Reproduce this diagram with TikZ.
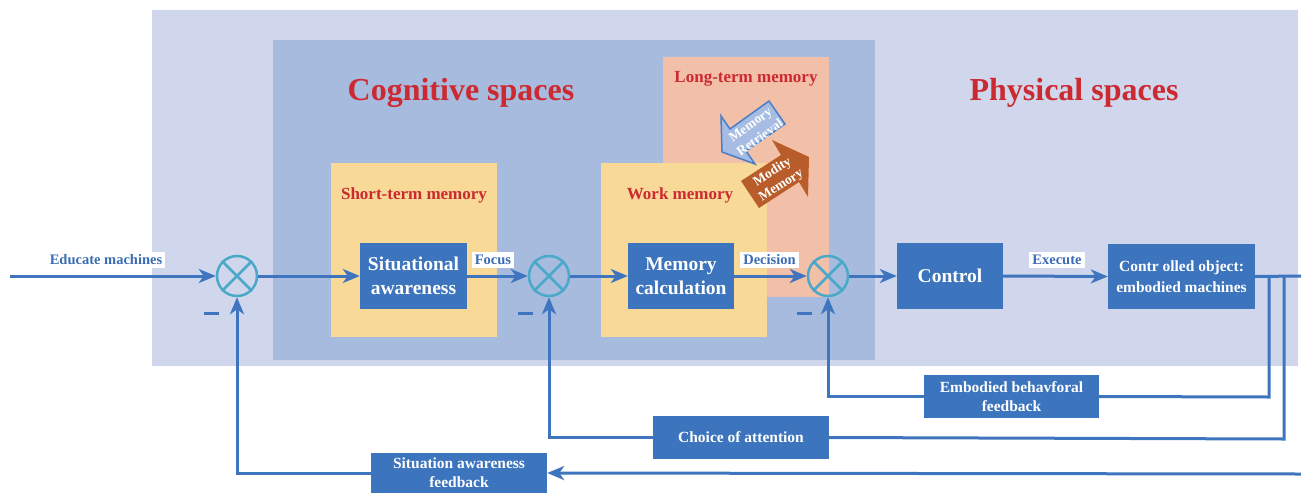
\documentclass[tikz,border=0pt]{standalone}
\usepackage{fontspec}
\setmainfont{Liberation Serif}
\usetikzlibrary{arrows.meta}
\definecolor{physbg}{HTML}{D0D7EC}
\definecolor{cogbg}{HTML}{A7BBDF}
\definecolor{longbg}{HTML}{F2BFA8}
\definecolor{shortbg}{HTML}{F8D998}
\definecolor{nodeblue}{HTML}{3C74BD}
\definecolor{lineblue}{HTML}{3F75BF}
\definecolor{labelblue}{HTML}{3C6CB4}
\definecolor{titlered}{HTML}{CC2A30}
\definecolor{sumteal}{HTML}{4AA8C8}
\definecolor{retrfill}{HTML}{A6BCE2}
\definecolor{retrline}{HTML}{4A7EC8}
\definecolor{modfill}{HTML}{B85C2A}
\begin{document}
\begin{tikzpicture}[x=1pt,y=-1pt,
  blockbox/.style={fill=nodeblue,text=white,font=\bfseries\fontsize{19.5}{24}\selectfont,align=center,inner sep=0pt},
  fbbox/.style={fill=nodeblue,text=white,font=\bfseries\fontsize{15.5}{19}\selectfont,align=center,inner sep=0pt},
  linelabel/.style={fill=white,text=labelblue,font=\bfseries\fontsize{14.5}{16}\selectfont,inner sep=3pt},
  sumnode/.style={circle,draw=sumteal,line width=2.5pt,minimum size=40pt,inner sep=0pt},
  conn/.style={draw=lineblue,line width=3pt},
  arr/.style={conn,-{Stealth[length=17pt,width=14pt,inset=5pt]}},
  spacetitle/.style={text=titlered,font=\bfseries\fontsize{32}{36}\selectfont},
  memtitle/.style={text=titlered,font=\bfseries\fontsize{17}{20}\selectfont},
  arrowtext/.style={text=white,font=\bfseries\fontsize{13.5}{16}\selectfont,align=center,inner sep=0pt},
  minussign/.style={draw=lineblue,line width=3pt}
]
\useasboundingbox (0,0) rectangle (1301,493);
% backgrounds
\fill[physbg] (152,10) rectangle (1298,366);
\fill[cogbg] (273,40) rectangle (875,360);
\fill[longbg] (663,57) rectangle (829,297);
\fill[shortbg] (331,163) rectangle (497,337);
\fill[shortbg] (601,163) rectangle (767,337);
% titles
\node[spacetitle] (cogt) at (461,93) {Cognitive spaces};
\node[spacetitle] (phyt) at (1074,93) {Physical spaces};
\node[memtitle] (ltm) at (746,78.5) {Long-term memory};
\node[memtitle] (stm) at (414,195.5) {Short-term memory};
\node[memtitle] (wm) at (680,195.5) {Work memory};
% memory arrows
\filldraw[fill=retrfill,draw=retrline,line width=1.5pt,line join=miter]
  (769,101) -- (785,124) -- (746,151) -- (755,164) -- (722,152) -- (721,116) -- (730,129) -- cycle;
\node[arrowtext,rotate=35.7] (retr) at (755,131) {Memory\\Retrieval};
\fill[modfill]
  (741,181) -- (781,155) -- (772,140) -- (809,157) -- (808,197) -- (799,182) -- (759,208) -- cycle;
\node[arrowtext,rotate=32.5] (modm) at (777,179) {Modity\\Memory};
% blocks
\node[blockbox,minimum width=107pt,minimum height=66pt] (sit) at (413.5,276) {Situational\\awareness};
\node[blockbox,minimum width=106pt,minimum height=66pt] (mem) at (681,276) {Memory\\calculation};
\node[blockbox,minimum width=106pt,minimum height=66pt] (ctrl) at (950,276) {Control};
\node[fbbox,minimum width=147pt,minimum height=65pt,font=\bfseries\fontsize{15.5}{21}\selectfont] (obj) at (1181.5,276.5) {Contr olled object:\\embodied machines};
\node[fbbox,minimum width=175pt,minimum height=43pt] (emb) at (1011.5,396.5) {Embodied behavforal\\feedback};
\node[fbbox,minimum width=176pt,minimum height=43pt] (choice) at (741,437.5) {Choice of attention};
\node[fbbox,minimum width=176pt,minimum height=40pt] (sitfb) at (459,473) {Situation awareness\\feedback};
% summing junctions
\foreach \n/\x in {s1/237,s2/549,s3/828}{
  \node[sumnode] (\n) at (\x,276) {};
  \draw[sumteal,line width=2.5pt] (\n.45) -- (\n.225) (\n.135) -- (\n.315);
}
% minus signs
\draw[minussign] (204,313) -- (219,313);
\draw[minussign] (518,313) -- (533,313);
\draw[minussign] (797,313) -- (812,313);
% coordinates
\coordinate (inp) at (10,276);
\coordinate (outR) at (1301,276);
\coordinate (b1) at (1269,276);
\coordinate (b1d) at (1269,397);
\coordinate (b2) at (1284,276);
\coordinate (b2d) at (1284,439);
\coordinate (fbR) at (1301,474);
% forward path
\draw[arr] (inp) -- (s1.west);
\draw[arr] (s1.east) -- (sit.west);
\draw[arr] (sit.east) -- (s2.west);
\draw[arr] (s2.east) -- (mem.west);
\draw[arr] (mem.east) -- (s3.west);
\draw[arr] (s3.east) -- (ctrl.west);
\draw[arr] (ctrl.east) -- (obj.west);
\draw[conn] (obj.east) -- (outR);
% feedback paths
\draw[conn] (b1) -- (b1d) -- (emb.east);
\draw[arr] (emb.west) -| (s3.south);
\draw[conn] (b2) -- (b2d) -- (choice.east);
\draw[arr] (choice.west) -| (s2.south);
\draw[arr] (fbR) -- (sitfb.east);
\draw[arr] (sitfb.west) -| (s1.south);
% line labels
\node[linelabel] (lbl1) at (106,260) {Educate machines};
\node[linelabel] (lbl2) at (493,260) {Focus};
\node[linelabel] (lbl3) at (769.5,260) {Decision};
\node[linelabel] (lbl4) at (1057,260) {Execute};
\end{tikzpicture}
\end{document}
